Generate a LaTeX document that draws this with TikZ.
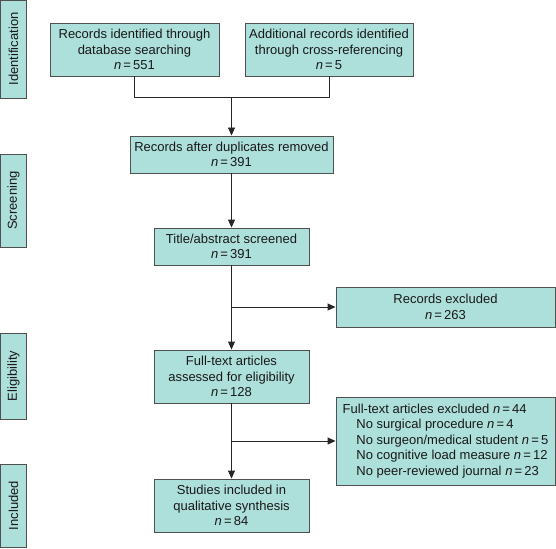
\documentclass[tikz,border=0pt]{standalone}
\usepackage{fontspec}
\setmainfont{Liberation Sans}
\usepackage{xcolor,tikz}
\usetikzlibrary{arrows.meta,calc,positioning}
\definecolor{boxfill}{HTML}{ADDFDB}
\definecolor{boxline}{HTML}{505050}
\tikzset{>={Triangle[length=8pt,width=7pt]}}
\tikzset{
  flowbox/.style={draw=boxline, fill=boxfill, line width=0.9pt, align=center, inner sep=2pt},
  stagebox/.style={draw=boxline, fill=boxfill, line width=0.9pt, rotate=90, minimum height=26pt, inner sep=0pt},
  link/.style={draw=black!85, line width=0.9pt}
}
\newcommand{\nval}[1]{\textit{n}\,=\,#1}

\begin{document}
\begin{tikzpicture}[x=1pt,y=-1pt,font=\fontsize{13}{15.5}\selectfont,text=black!90]
\useasboundingbox (0,0) rectangle (556,548);
%%%% stages
\node[stagebox, minimum width=98pt] (ident)  at (13.5,49)    {Identification};
\node[stagebox, minimum width=93pt] (screen) at (13.5,200.5) {Screening};
\node[stagebox, minimum width=86pt] (elig)   at (13.5,376)   {Eligibility};
\node[stagebox, minimum width=83pt] (incl)   at (13.5,505.5) {Included};
%%%% boxes
\node[flowbox, minimum width=169pt, minimum height=53pt] (dbsearch) at (134.5,49.5) {Records identified through\\database searching\\\nval{551}};
\node[flowbox, minimum width=168pt, minimum height=53pt] (crossref) at (329,49.5) {Additional records identified\\through cross-referencing\\\nval{5}};
\node[flowbox, minimum width=203pt, minimum height=37pt] (dupes) at (231.5,154.5) {Records after duplicates removed\\\nval{391}};
\node[flowbox, minimum width=155pt, minimum height=37pt] (screened) at (231.5,246.5) {Title/abstract screened\\\nval{391}};
\node[flowbox, minimum width=219pt, minimum height=40pt] (excl1) at (445.5,307) {Records excluded\\\nval{263}};
\node[flowbox, minimum width=155pt, minimum height=53pt] (fulltext) at (231.5,376.5) {Full-text articles\\assessed for eligibility\\\nval{128}};
\node[flowbox, minimum width=219pt, minimum height=88pt, align=left, inner sep=6pt] (excl2) at (445.5,441) {Full-text articles excluded \nval{44}\\
  \hspace*{1.05em}No surgical procedure \nval{4}\\
  \hspace*{1.05em}No surgeon/medical student \nval{5}\\
  \hspace*{1.05em}No cognitive load measure \nval{12}\\
  \hspace*{1.05em}No peer-reviewed journal \nval{23}};
\node[flowbox, minimum width=155pt, minimum height=53pt] (included) at (231.5,505.5) {Studies included in\\qualitative synthesis\\\nval{84}};
%%%% connectors
\coordinate (merge) at (dupes.north |- 0,97);
\draw[link] (dbsearch.south) -- (dbsearch.south |- merge) -- (crossref.south |- merge) -- (crossref.south);
\draw[link,->] (merge) -- (dupes.north);
\draw[link,->] (dupes.south) -- (screened.north);
\draw[link,->] (screened.south) -- (fulltext.north);
\coordinate (split1) at (screened.south |- excl1.west);
\draw[link,->] (split1) -- (excl1.west);
\draw[link,->] (fulltext.south) -- (included.north);
\coordinate (split2) at (fulltext.south |- excl2.west);
\draw[link,->] (split2) -- (excl2.west);
\end{tikzpicture}
\end{document}
